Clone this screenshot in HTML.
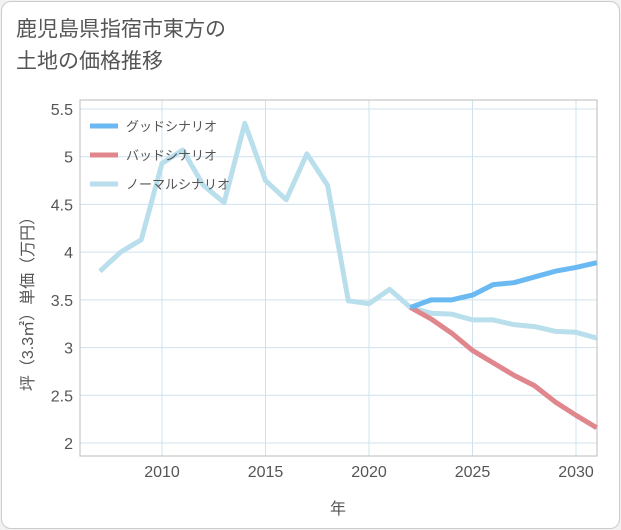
<!DOCTYPE html>
<html><head><meta charset="utf-8"><style>
body{margin:0;background:#f2f2f2;font-family:"Liberation Sans","Noto Sans CJK JP",sans-serif;}
#card{position:absolute;left:1px;top:1px;width:617px;height:526px;background:#fff;border:1px solid #ccc;border-radius:10px;}
#title{position:absolute;left:16px;top:14px;font-size:21px;line-height:32px;color:#555;}
</style></head><body>
<div id="card"></div>
<div id="title">鹿児島県指宿市東方の<br>土地の価格推移</div>
<svg id="chart" width="621" height="530" style="position:absolute;left:0;top:0"></svg>
<script>
const years=[2007,2008,2009,2010,2011,2012,2013,2014,2015,2016,2017,2018,2019,2020,2021,2022,2023,2024,2025,2026,2027,2028,2029,2030,2031];
const normalVals=[3.8,4.0,4.13,4.93,5.07,4.7,4.52,5.35,4.75,4.55,5.03,4.7,3.49,3.46,3.61,3.42,3.36,3.35,3.29,3.29,3.24,3.22,3.17,3.16,3.1];
const futureYears=[2022,2023,2024,2025,2026,2027,2028,2029,2030,2031];
const goodVals=[3.42,3.5,3.5,3.55,3.66,3.68,3.74,3.8,3.84,3.89];
const badVals=[3.42,3.3,3.15,2.97,2.84,2.71,2.6,2.43,2.29,2.16];
const xTicks=[2010,2015,2020,2025,2030];
const yTicks=[2,2.5,3,3.5,4,4.5,5,5.5];
const L=80,R=597,T=100,B=456;
const X=y=>162+(y-2010)*20.7;
const Y=v=>443-(v-2)*(334/3.5);
const svg=document.getElementById('chart');
const NS='http://www.w3.org/2000/svg';
function mk(t,a,p){const e=document.createElementNS(NS,t);for(const k in a)e.setAttribute(k,a[k]);(p||svg).appendChild(e);return e;}
for(const t of xTicks){const l=mk('line',{x1:X(t),x2:X(t),y1:T,y2:B,stroke:'#cfe3ee'});
const tx=mk('text',{x:X(t),y:477,'text-anchor':'middle','font-size':16,fill:'#555'});tx.textContent=t;}
for(const t of yTicks){const l=mk('line',{x1:L,x2:R,y1:Y(t),y2:Y(t),stroke:'#cfe3ee'});
const tx=mk('text',{x:73,y:Y(t)+6,'text-anchor':'end','font-size':16,fill:'#555'});tx.textContent=t;}
const fr=mk('rect',{x:L,y:T,width:R-L,height:B-T,fill:'none',stroke:'#bbb'});
function line(xs,vs,c,n){const p=mk('polyline',{points:xs.map((y,i)=>X(y)+','+Y(vs[i])).join(' '),fill:'none',stroke:c,'stroke-width':5,'stroke-linejoin':'round'});}
line(years,normalVals,'#b9dfec','normal-line');
line(futureYears,badVals,'#e0868d','bad-line');
line(futureYears,goodVals,'#6ab9f2','good-line');
const leg=[['グッドシナリオ','#6ab9f2'],['バッドシナリオ','#e0868d'],['ノーマルシナリオ','#b9dfec']];
leg.forEach((d,i)=>{const y=126+i*29;const l=mk('line',{x1:90,x2:118,y1:y,y2:y,stroke:d[1],'stroke-width':5});
const t=mk('text',{x:126,y:y+5,'font-size':13,fill:'#555'});t.textContent=d[0];});
const xt=mk('text',{x:338,y:514,'text-anchor':'middle','font-size':16,fill:'#555'});xt.textContent='年';
const yt=mk('text',{x:0,y:0,'text-anchor':'middle','font-size':16,fill:'#555',transform:'translate(33,300) rotate(-90)'});yt.textContent='坪（3.3㎡）単価（万円）';
</script>
</body></html>
